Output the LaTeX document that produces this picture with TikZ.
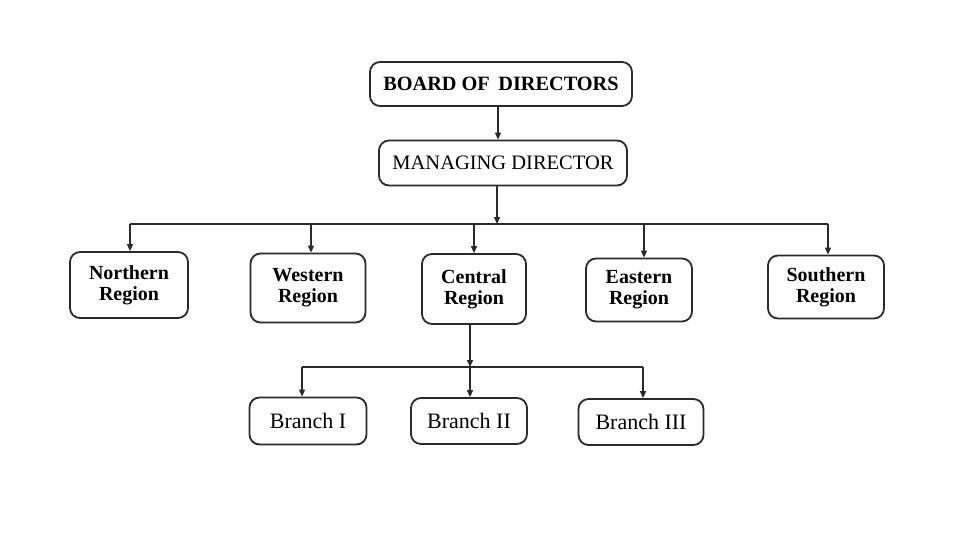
\documentclass[tikz,border=0pt]{standalone}
\usepackage{fontspec}
\setmainfont{Liberation Serif}
\usetikzlibrary{arrows.meta}
\definecolor{ink}{HTML}{2A2A2A}
\tikzset{
  box/.style={draw=ink, line width=1.8pt, rounded corners=10pt, align=center, inner sep=0pt, text=black},
  conn/.style={draw=ink, line width=1.5pt},
  arr/.style={conn, -{Triangle[length=7pt,width=6pt]}},
  bigbold/.style={font=\fontsize{20.3}{21}\selectfont\bfseries},
  bigreg/.style={font=\fontsize{20.5}{21}\selectfont},
  regbold/.style={font=\fontsize{20}{21}\selectfont\bfseries},
  brreg/.style={font=\fontsize{22}{22}\selectfont}
}
\begin{document}
\begin{tikzpicture}[x=1pt,y=-1pt]
\useasboundingbox (0,0) rectangle (960,540);
% top
\node[box, bigbold, minimum width=262pt, minimum height=44pt] (board) at (501,84) {BOARD OF\, DIRECTORS};
\node[box, bigreg, minimum width=248pt, minimum height=45pt] (md) at (503,163) {MANAGING DIRECTOR};
% regions
\node[box, regbold, minimum width=118pt, minimum height=66pt] (north) at (129,285) {Northern\\Region};
\node[box, regbold, minimum width=115pt, minimum height=69pt] (west) at (308,288) {Western\\Region};
\node[box, regbold, minimum width=104pt, minimum height=70pt] (central) at (474,289) {Central\\Region};
\node[box, regbold, minimum width=106pt, minimum height=63pt] (east) at (639,290) {Eastern\\Region};
\node[box, regbold, minimum width=116pt, minimum height=63pt] (south) at (826,287) {Southern\\Region};
% branches
\node[box, brreg, minimum width=117pt, minimum height=47pt] (b1) at (308,421) {Branch I};
\node[box, brreg, minimum width=116pt, minimum height=46pt] (b2) at (469,421) {Branch II};
\node[box, brreg, minimum width=125pt, minimum height=46pt] (b3) at (641,422) {Branch III};
% bus coordinates
\coordinate (bus1) at (497,224);
\coordinate (bus1L) at (130,224);
\coordinate (bus1R) at (828,224);
\coordinate (bus2) at (470,367);
\coordinate (bus2L) at (302,367);
\coordinate (bus2R) at (643,367);
% connectors
\draw[arr] (board.south -| md.north) ++(-5,0) coordinate (bs) (bs) -- (bs |- md.north);
\draw[arr] (md.south -| bus1) -- (bus1);
\draw[conn] (bus1L) -- (bus1R);
\draw[arr] (bus1L) -- (bus1L |- north.north);
\draw[arr] (west.north |- bus1) ++(3,0) coordinate (wt) (wt) -- (wt |- west.north);
\draw[arr] (central.north |- bus1) -- (central.north);
\draw[arr] (east.north |- bus1) ++(5,0) coordinate (et) (et) -- (et |- east.north);
\draw[arr] (bus1R) -- (bus1R |- south.north);
\draw[arr] (central.south -| bus2) -- (bus2);
\draw[conn] (bus2L) -- (bus2R);
\draw[arr] (bus2L) -- (bus2L |- b1.north);
\draw[arr] (bus2) -- (bus2 |- b2.north);
\draw[arr] (bus2R) -- (bus2R |- b3.north);
\end{tikzpicture}
\end{document}
